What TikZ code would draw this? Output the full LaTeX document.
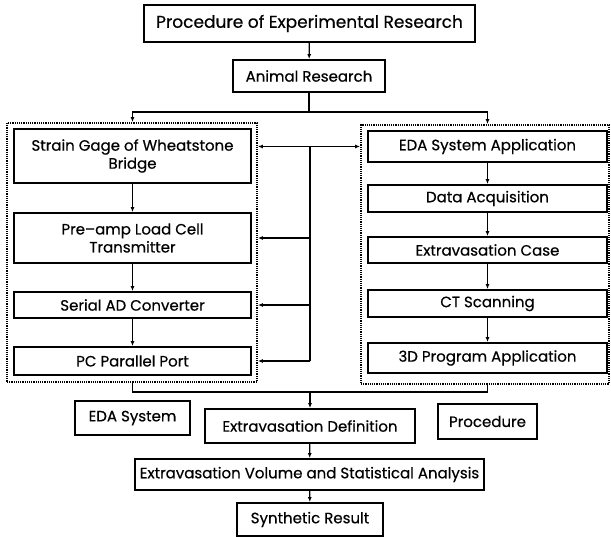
\documentclass[tikz,border=0pt]{standalone}
\usepackage{fontspec}
\setmainfont{Poppins}[FakeBold=0.5]
\usetikzlibrary{positioning,calc,arrows.meta}

\tikzset{
  blk/.style={draw,line width=1.8pt,align=center,inner sep=2pt,
              font=\fontsize{15}{18}\selectfont},
  frm/.style={draw,line width=1.8pt,dash pattern=on 1.2pt off 1pt},
  arr/.style={line width=1.2pt,-{Latex[length=5pt,width=4pt]}},
  arrs/.style={line width=1.2pt,{Latex[length=5pt,width=4pt]}-{Latex[length=5pt,width=4pt]}},
  ln/.style={line width=1.2pt}
}

\begin{document}
\begin{tikzpicture}[x=1pt,y=-1pt]
        \useasboundingbox (0,0) rectangle (611,537);
        % top
        \node[blk,minimum width=331pt,minimum height=37pt,font=\fontsize{17}{20}\selectfont] (title) at (309.5,23.5) {Procedure of Experimental Research};
        \node[blk,minimum width=152pt,minimum height=32pt] (animal) at (309,76) {Animal Research};
        % dotted groups
        \node[frm,minimum width=250pt,minimum height=259pt] (lfr) at (132,252.5) {};
        \node[frm,minimum width=248pt,minimum height=259pt] (rfr) at (485,254.5) {};
        % left column
        \node[blk,minimum width=237pt,minimum height=54pt] (strain) at (132.5,156) {Strain Gage of Wheatstone\\Bridge};
        \node[blk,minimum width=237pt,minimum height=50pt] (preamp) at (132.5,238) {Pre--amp Load Cell\\Transmitter};
        \node[blk,minimum width=237pt,minimum height=26pt] (serial) at (132.5,305) {Serial AD Converter};
        \node[blk,minimum width=237pt,minimum height=28pt] (pcport) at (132.5,361) {PC Parallel Port};
        % right column
        \node[blk,minimum width=239pt,minimum height=31pt] (edaapp) at (487.5,146.5) {EDA System Application};
        \node[blk,minimum width=239pt,minimum height=27pt] (dataacq) at (487.5,198.5) {Data Acquisition};
        \node[blk,minimum width=239pt,minimum height=26pt] (excase) at (487.5,250) {Extravasation Case};
        \node[blk,minimum width=239pt,minimum height=27pt] (ctscan) at (487.5,303.5) {CT Scanning};
        \node[blk,minimum width=239pt,minimum height=30pt] (prog3d) at (487.5,358) {3D Program Application};
        % bottom
        \node[blk,minimum width=115pt,minimum height=34pt] (edasys) at (132.5,418) {EDA System};
        \node[blk,minimum width=210pt,minimum height=34pt] (exdef) at (310,426) {Extravasation Definition};
        \node[blk,minimum width=99pt,minimum height=35pt] (proc) at (487.5,421.5) {Procedure};
        \node[blk,minimum width=349pt,minimum height=31pt] (exvol) at (309.5,474.5) {Extravasation Volume and Statistical Analysis};
        \node[blk,minimum width=146pt,minimum height=33pt] (synth) at (310,519.5) {Synthetic Result};

        \coordinate (sp) at (309,112);
        \coordinate (bus) at (310,0);
        \coordinate (mg) at (310,392);

        \draw[arr] (title) -- (animal);
        \draw[ln] (animal) -- (sp);
        \draw[arr] (sp) -| (strain.north |- lfr.north);
        \draw[arr] (sp) -| (edaapp.north |- rfr.north);

        \draw[arr] (strain) -- (preamp);
        \draw[arr] (preamp) -- (serial);
        \draw[arr] (serial) -- (pcport);
        \draw[arr] (edaapp) -- (dataacq);
        \draw[arr] (dataacq) -- (excase);
        \draw[arr] (excase) -- (ctscan);
        \draw[arr] (ctscan) -- (prog3d);

        % link between the groups
        \draw[arrs] (lfr.east |- edaapp) -- (rfr.west |- edaapp);
        \draw[ln] (bus |- edaapp) -- (bus |- pcport);
        \draw[arr] (bus |- preamp) -- (lfr.east |- preamp);
        \draw[arr] (bus |- serial) -- (lfr.east |- serial);
        \draw[arr] (bus |- pcport) -- (lfr.east |- pcport);

        \draw[ln] (strain.south |- lfr.south) |- (mg) -| (prog3d.south |- rfr.south);
        \draw[arr] (mg) -- (exdef);
        \draw[arr] (exdef) -- (exvol);
        \draw[arr] (exvol) -- (synth);
      \end{tikzpicture}
\end{document}
